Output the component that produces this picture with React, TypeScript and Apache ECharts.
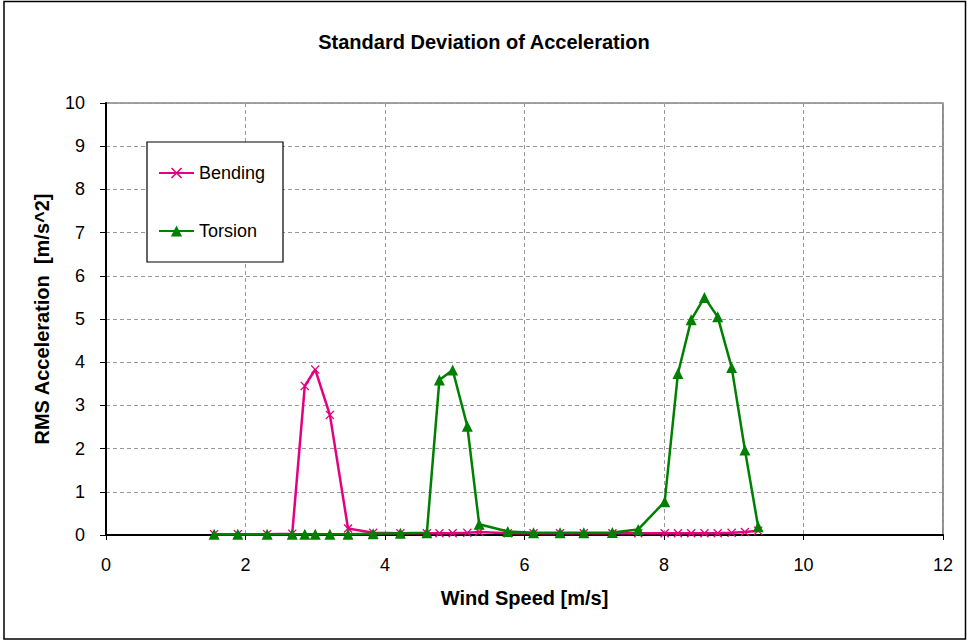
import React, { useEffect, useRef } from "react";
import * as echarts from "echarts";

const windSpeed = [1.55, 1.89, 2.31, 2.67, 2.85, 3.0, 3.21, 3.47, 3.83, 4.22, 4.6, 4.78, 4.97, 5.18, 5.35, 5.76, 6.13, 6.51, 6.85, 7.26, 7.63, 8.01, 8.2, 8.39, 8.58, 8.77, 8.97, 9.16, 9.35];
const bending = [0.02, 0.02, 0.02, 0.03, 3.45, 3.83, 2.78, 0.15, 0.05, 0.04, 0.04, 0.04, 0.04, 0.05, 0.07, 0.04, 0.04, 0.04, 0.04, 0.04, 0.04, 0.04, 0.04, 0.04, 0.04, 0.04, 0.05, 0.07, 0.1];
const torsion = [0.02, 0.02, 0.02, 0.02, 0.02, 0.02, 0.02, 0.02, 0.03, 0.04, 0.05, 3.59, 3.82, 2.52, 0.25, 0.08, 0.05, 0.05, 0.05, 0.06, 0.13, 0.77, 3.74, 4.98, 5.5, 5.05, 3.88, 1.97, 0.19];
const seriesNames = ["Bending", "Torsion"];
const title = "Standard Deviation of Acceleration";
const xName = "Wind Speed [m/s]";
const yName = "RMS Acceleration  [m/s^2]";

const PINK = "#E5007F";
const GREEN = "#008000";
const FONT = "Liberation Sans, Arial, sans-serif";
const X_SYMBOL = "path://M0,1L1,0L5,4L9,0L10,1L6,5L10,9L9,10L5,6L1,10L0,9L4,5Z";

export default function App() {
  const ref = useRef<HTMLDivElement>(null);
  useEffect(() => {
    if (!ref.current) return;
    const chart = echarts.init(ref.current, undefined, { renderer: "svg" });
    const pair = (ys: number[]) => windSpeed.map((x, i) => [x, ys[i]]);
    chart.setOption({
      animation: false,
      backgroundColor: "#ffffff",
      textStyle: { fontFamily: FONT },
      title: {
        text: title,
        left: "center",
        top: 27,
        textStyle: { fontFamily: FONT, fontSize: 20, fontWeight: "bold", color: "#000" },
      },
      graphic: [
        {
          type: "rect",
          shape: { x: 4, y: 1.5, width: 961.5, height: 637.5 },
          style: { fill: "none", stroke: "#000", lineWidth: 1.5 },
          z: 100,
        },
        {
          type: "rect",
          shape: { x: 147, y: 142, width: 136, height: 120 },
          style: { fill: "#fff", stroke: "#000", lineWidth: 1.2 },
          z: 50,
        },
      ],
      legend: {
        data: seriesNames,
        orient: "vertical",
        left: 158,
        top: 164,
        padding: 0,
        itemWidth: 35,
        itemHeight: 14,
        itemGap: 40,
        z: 60,
        textStyle: { fontFamily: FONT, fontSize: 18, color: "#000" },
      },
      grid: {
        left: 106,
        right: 25,
        top: 103,
        bottom: 106,
        show: true,
        borderColor: "#444",
        borderWidth: 1.2,
        backgroundColor: "#fff",
      },
      xAxis: {
        type: "value",
        min: 0,
        max: 12,
        interval: 2,
        name: xName,
        nameLocation: "middle",
        nameGap: 53,
        nameTextStyle: { fontFamily: FONT, fontSize: 20, fontWeight: "bold", color: "#000" },
        axisLine: { show: true, onZero: false, lineStyle: { color: "#000", width: 2 } },
        axisTick: { show: true, length: 5, lineStyle: { color: "#000", width: 1 } },
        axisLabel: { margin: 21, fontFamily: FONT, fontSize: 18, color: "#000" },
        splitLine: { show: true, lineStyle: { color: "#999", type: [4, 3], width: 1 } },
      },
      yAxis: {
        type: "value",
        min: 0,
        max: 10,
        interval: 1,
        name: yName,
        nameLocation: "middle",
        nameGap: 54,
        nameTextStyle: { fontFamily: FONT, fontSize: 20, fontWeight: "bold", color: "#000" },
        axisLine: { show: true, lineStyle: { color: "#000", width: 2 } },
        axisTick: { show: true, length: 6, lineStyle: { color: "#000", width: 1 } },
        axisLabel: { margin: 21, fontFamily: FONT, fontSize: 18, color: "#000" },
        splitLine: { show: true, lineStyle: { color: "#999", type: [4, 3], width: 1 } },
      },
      series: [
        {
          name: seriesNames[0],
          type: "line",
          data: pair(bending),
          symbol: X_SYMBOL,
          symbolSize: 9,
          showAllSymbol: true,
          lineStyle: { color: PINK, width: 2.5 },
          itemStyle: { color: PINK },
          z: 3,
        },
        {
          name: seriesNames[1],
          type: "line",
          data: pair(torsion),
          symbol: "triangle",
          symbolSize: 11,
          showAllSymbol: true,
          lineStyle: { color: GREEN, width: 2.5 },
          itemStyle: { color: GREEN },
          z: 4,
        },
      ],
    });
    return () => chart.dispose();
  }, []);
  return (
    <div
      ref={ref}
      style={{ position: "absolute", left: 0, top: 0, width: 968, height: 641 }}
    />
  );
}
